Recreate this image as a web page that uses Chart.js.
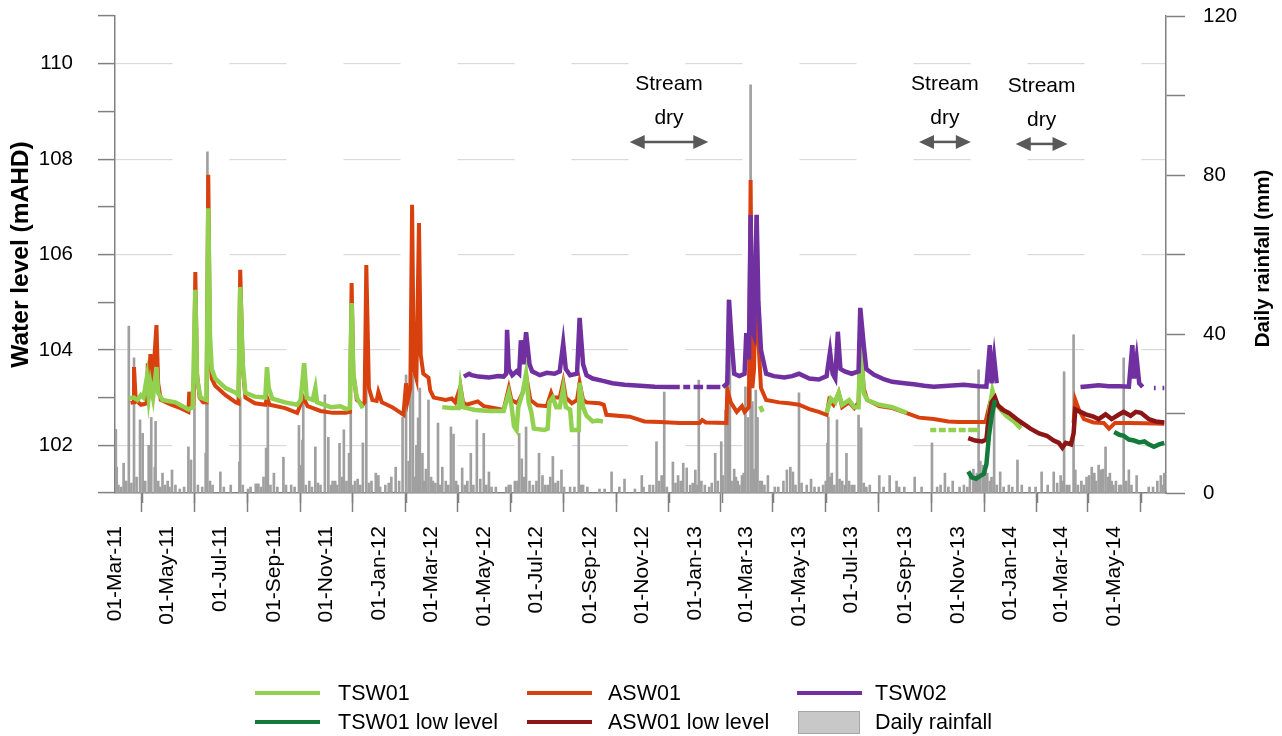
<!DOCTYPE html>
<html lang="en">
<head>
<meta charset="UTF-8">
<title>Water level and daily rainfall</title>
<script src="https://cdn.jsdelivr.net/npm/chart.js"></script>
<style>
  html, body { margin: 0; padding: 0; background: #fff; }
  #wrap { width: 1282px; height: 736px; }
</style>
</head>
<body>
<div id="wrap"><canvas id="chart" width="1282" height="736"></canvas></div>
<script>
// ---- data ----
const tickLabels = ['01-Mar-11', '01-May-11', '01-Jul-11', '01-Sep-11', '01-Nov-11', '01-Jan-12',
  '01-Mar-12', '01-May-12', '01-Jul-12', '01-Sep-12', '01-Nov-12', '01-Jan-13', '01-Mar-13',
  '01-May-13', '01-Jul-13', '01-Sep-13', '01-Nov-13', '01-Jan-14', '01-Mar-14', '01-May-14'];

const tsw01 = [
  ['2011-03-17', 102.99], ['2011-03-23', 103.0], ['2011-03-27', 102.95], ['2011-03-31', 103.05],
  ['2011-04-03', 103.0], ['2011-04-07', 103.43], ['2011-04-09', 103.0], ['2011-04-11', 103.3],
  ['2011-04-14', 103.0], ['2011-04-18', 103.64], ['2011-04-20', 103.1], ['2011-04-25', 102.95],
  ['2011-05-10', 102.9], ['2011-05-25', 102.75], ['2011-05-30', 102.8], ['2011-06-02', 105.26],
  ['2011-06-04', 103.4], ['2011-06-08', 103.0], ['2011-06-15', 102.95], ['2011-06-17', 106.97],
  ['2011-06-19', 104.3], ['2011-06-21', 103.6], ['2011-06-25', 103.4], ['2011-07-07', 103.2],
  ['2011-07-19', 103.1], ['2011-07-22', 103.05], ['2011-07-24', 105.32], ['2011-07-27', 103.7],
  ['2011-07-30', 103.1], ['2011-08-10', 103.02], ['2011-08-22', 103.0], ['2011-08-24', 103.64],
  ['2011-08-26', 103.2], ['2011-08-30', 102.98], ['2011-09-14', 102.9], ['2011-09-28', 102.85],
  ['2011-10-02', 102.95], ['2011-10-06', 103.72], ['2011-10-09', 103.0], ['2011-10-16', 102.95],
  ['2011-10-19', 103.2], ['2011-10-21', 102.9], ['2011-11-06', 102.8], ['2011-11-17', 102.82],
  ['2011-11-24', 102.76], ['2011-11-28', 102.78], ['2011-11-30', 104.98], ['2011-12-02', 103.5],
  ['2011-12-06', 103.0], ['2011-12-13', 102.78], ['2011-12-14', null],
  ['2012-03-14', 102.8], ['2012-03-23', 102.78], ['2012-04-02', 102.78], ['2012-04-04', 103.2],
  ['2012-04-07', 102.8], ['2012-04-21', 102.74], ['2012-05-08', 102.72], ['2012-05-24', 102.72],
  ['2012-05-30', 103.1], ['2012-06-02', 102.85], ['2012-06-05', 102.4], ['2012-06-08', 102.32],
  ['2012-06-10', 102.8], ['2012-06-15', 103.1], ['2012-06-19', 103.5], ['2012-06-22', 102.9],
  ['2012-06-25', 102.7], ['2012-06-28', 102.35], ['2012-07-10', 102.32], ['2012-07-14', 102.35],
  ['2012-07-16', 102.9], ['2012-07-20', 103.0], ['2012-07-24', 102.8], ['2012-07-28', 102.8],
  ['2012-08-01', 103.2], ['2012-08-04', 102.8], ['2012-08-09', 102.75], ['2012-08-11', 102.32],
  ['2012-08-19', 102.32], ['2012-08-20', 103.31], ['2012-08-24', 102.8], ['2012-08-28', 102.62],
  ['2012-09-04', 102.5], ['2012-09-10', 102.52], ['2012-09-16', 102.5], ['2012-09-17', null],
  ['2013-03-17', 102.82], ['2013-03-20', 102.7], ['2013-03-21', null],
  ['2013-06-02', 102.68], ['2013-06-07', 102.98], ['2013-06-12', 102.9], ['2013-06-16', 103.1],
  ['2013-06-20', 102.85], ['2013-06-28', 102.95], ['2013-07-04', 102.8], ['2013-07-09', 102.8],
  ['2013-07-11', 104.25], ['2013-07-15', 103.1], ['2013-07-19', 102.95], ['2013-08-02', 102.85],
  ['2013-08-17', 102.8], ['2013-09-03', 102.68], ['2013-09-04', null],
  ['2013-09-30', 102.32], ['2013-10-07', 102.32], ['2013-10-08', null],
  ['2013-10-10', 102.32], ['2013-10-18', 102.32], ['2013-10-19', null],
  ['2013-10-21', 102.32], ['2013-10-30', 102.32], ['2013-10-31', null],
  ['2013-11-02', 102.32], ['2013-11-10', 102.32], ['2013-11-11', null],
  ['2013-11-13', 102.32], ['2013-11-25', 102.32], ['2013-11-26', null],
  ['2013-12-05', 102.32], ['2013-12-08', 102.8], ['2013-12-11', 103.15], ['2013-12-14', 102.95],
  ['2013-12-18', 102.8], ['2013-12-27', 102.62], ['2014-01-05', 102.5], ['2014-01-13', 102.35]
];

const tsw01Low = [
  ['2013-11-13', 101.45], ['2013-11-17', 101.33], ['2013-11-22', 101.3], ['2013-11-26', 101.35],
  ['2013-12-01', 101.4], ['2013-12-04', 101.6], ['2013-12-07', 102.2], ['2013-12-10', 102.6],
  ['2013-12-14', 102.95], ['2013-12-15', null],
  ['2014-05-01', 102.28], ['2014-05-07', 102.22], ['2014-05-12', 102.2], ['2014-05-18', 102.12],
  ['2014-05-24', 102.1], ['2014-05-30', 102.06], ['2014-06-05', 102.08], ['2014-06-10', 102.02],
  ['2014-06-16', 101.97], ['2014-06-22', 102.02], ['2014-06-28', 102.05]
];

const asw01 = [
  ['2011-03-19', 102.89], ['2011-03-22', 102.9], ['2011-03-23', 103.64], ['2011-03-25', 102.95],
  ['2011-03-31', 102.85], ['2011-04-05', 102.87], ['2011-04-07', 102.9], ['2011-04-08', 103.72],
  ['2011-04-09', 103.2], ['2011-04-11', 103.91], ['2011-04-13', 103.1], ['2011-04-18', 104.52],
  ['2011-04-20', 103.3], ['2011-04-23', 102.95], ['2011-05-05', 102.85], ['2011-05-16', 102.78],
  ['2011-05-25', 102.7], ['2011-05-26', 103.12], ['2011-05-28', 102.85], ['2011-05-31', 102.85],
  ['2011-06-02', 105.63], ['2011-06-04', 103.5], ['2011-06-07', 103.0], ['2011-06-11', 102.9],
  ['2011-06-15', 102.9], ['2011-06-17', 107.67], ['2011-06-19', 104.0], ['2011-06-21', 103.4],
  ['2011-06-25', 103.25], ['2011-07-07', 103.05], ['2011-07-19', 102.9], ['2011-07-22', 102.88],
  ['2011-07-24', 105.68], ['2011-07-27', 103.6], ['2011-07-30', 103.0], ['2011-08-10', 102.88],
  ['2011-08-22', 102.85], ['2011-08-24', 103.0], ['2011-08-27', 102.85], ['2011-09-14', 102.78],
  ['2011-09-28', 102.68], ['2011-10-05', 103.0], ['2011-10-10', 102.82], ['2011-10-25', 102.72],
  ['2011-11-08', 102.68], ['2011-11-23', 102.68], ['2011-11-28', 102.7], ['2011-11-30', 105.4],
  ['2011-12-02', 103.5], ['2011-12-06', 102.95], ['2011-12-13', 102.85], ['2011-12-15', 102.9],
  ['2011-12-17', 105.78], ['2011-12-20', 103.2], ['2011-12-24', 102.95], ['2011-12-29', 102.93],
  ['2011-12-31', 103.12], ['2012-01-04', 102.9], ['2012-01-16', 102.8], ['2012-01-29', 102.64],
  ['2012-02-01', 103.3], ['2012-02-03', 102.95], ['2012-02-06', 103.2], ['2012-02-08', 107.04],
  ['2012-02-10', 103.6], ['2012-02-13', 103.4], ['2012-02-16', 106.66], ['2012-02-18', 103.9],
  ['2012-02-21', 103.5], ['2012-02-27', 103.42], ['2012-02-29', 103.15], ['2012-03-04', 103.0],
  ['2012-03-18', 102.95], ['2012-03-25', 102.98], ['2012-03-29', 102.9], ['2012-04-04', 103.23],
  ['2012-04-07', 102.9], ['2012-04-11', 102.85], ['2012-04-24', 102.92], ['2012-05-01', 102.82],
  ['2012-05-14', 102.78], ['2012-05-24', 102.74], ['2012-05-30', 103.2], ['2012-06-02', 102.95],
  ['2012-06-09', 102.88], ['2012-06-15', 103.1], ['2012-06-20', 103.37], ['2012-06-24', 102.95],
  ['2012-07-02', 102.84], ['2012-07-13', 102.82], ['2012-07-18', 103.1], ['2012-07-20', 103.0],
  ['2012-07-24', 103.0], ['2012-07-28', 103.0], ['2012-08-01', 103.33], ['2012-08-04', 103.0],
  ['2012-08-11', 102.88], ['2012-08-17', 102.95], ['2012-08-20', 103.31], ['2012-08-24', 102.95],
  ['2012-08-28', 102.9], ['2012-09-12', 102.88], ['2012-09-17', 102.85], ['2012-09-20', 102.64],
  ['2012-10-17', 102.6], ['2012-11-03', 102.5], ['2012-11-21', 102.49], ['2012-12-14', 102.47],
  ['2013-01-06', 102.47], ['2013-01-09', 102.53], ['2013-01-13', 102.48], ['2013-02-06', 102.47],
  ['2013-02-07', 103.16], ['2013-02-11', 102.9], ['2013-02-18', 102.7], ['2013-02-24', 102.82],
  ['2013-02-27', 102.7], ['2013-03-04', 102.8], ['2013-03-06', 107.56], ['2013-03-08', 103.2],
  ['2013-03-10', 103.6], ['2013-03-13', 106.83], ['2013-03-15', 104.2], ['2013-03-18', 103.2],
  ['2013-03-24', 102.95], ['2013-04-08', 102.9], ['2013-04-19', 102.88], ['2013-05-01', 102.85],
  ['2013-05-13', 102.76], ['2013-05-24', 102.7], ['2013-06-02', 102.64], ['2013-06-05', 102.95],
  ['2013-06-10', 102.85], ['2013-06-16', 103.1], ['2013-06-20', 102.8], ['2013-06-28', 102.9],
  ['2013-07-04', 102.78], ['2013-07-09', 102.9], ['2013-07-11', 104.2], ['2013-07-15', 103.2],
  ['2013-07-19', 102.95], ['2013-08-02', 102.82], ['2013-08-17', 102.78], ['2013-09-02', 102.68],
  ['2013-09-17', 102.58], ['2013-10-04', 102.55], ['2013-10-21', 102.5], ['2013-11-02', 102.49],
  ['2013-11-19', 102.49], ['2013-12-03', 102.49], ['2013-12-07', 102.8], ['2013-12-10', 103.0],
  ['2013-12-15', 102.85], ['2013-12-22', 102.78], ['2013-12-30', 102.62], ['2014-01-07', 102.52],
  ['2014-01-14', 102.43], ['2014-01-15', null],
  ['2014-03-15', 102.47], ['2014-03-17', 102.95], ['2014-03-21', 102.75], ['2014-03-27', 102.55],
  ['2014-04-07', 102.48], ['2014-04-19', 102.47], ['2014-04-25', 102.35], ['2014-05-02', 102.47],
  ['2014-05-18', 102.47], ['2014-06-05', 102.46], ['2014-06-28', 102.45]
];

const asw01Low = [
  ['2013-11-13', 102.15], ['2013-11-21', 102.1], ['2013-11-29', 102.08], ['2013-12-04', 102.12],
  ['2013-12-07', 102.6], ['2013-12-10', 102.9], ['2013-12-14', 103.0], ['2013-12-17', 102.85],
  ['2013-12-22', 102.75], ['2013-12-30', 102.68], ['2014-01-08', 102.55], ['2014-01-16', 102.45],
  ['2014-01-24', 102.35], ['2014-02-03', 102.25], ['2014-02-12', 102.2], ['2014-02-20', 102.1],
  ['2014-02-26', 102.05], ['2014-03-02', 101.95], ['2014-03-06', 102.05], ['2014-03-12', 102.02],
  ['2014-03-15', 102.25], ['2014-03-17', 102.75], ['2014-03-23', 102.7], ['2014-03-29', 102.65],
  ['2014-04-07', 102.6], ['2014-04-13', 102.55], ['2014-04-21', 102.65], ['2014-04-28', 102.55],
  ['2014-05-07', 102.65], ['2014-05-12', 102.7], ['2014-05-20', 102.62], ['2014-05-26', 102.7],
  ['2014-06-01', 102.68], ['2014-06-10', 102.55], ['2014-06-18', 102.5], ['2014-06-28', 102.48]
];

const tsw02 = [
  ['2012-04-08', 103.44], ['2012-04-14', 103.5], ['2012-04-17', 103.47], ['2012-04-25', 103.44],
  ['2012-05-07', 103.42], ['2012-05-18', 103.45], ['2012-05-24', 103.44], ['2012-05-27', 103.5],
  ['2012-05-28', 104.42], ['2012-05-30', 103.6], ['2012-06-03', 103.47], ['2012-06-08', 103.55],
  ['2012-06-11', 103.5], ['2012-06-13', 104.2], ['2012-06-16', 103.7], ['2012-06-19', 104.37],
  ['2012-06-23', 103.7], ['2012-06-26', 103.55], ['2012-07-05', 103.47], ['2012-07-13', 103.52],
  ['2012-07-22', 103.5], ['2012-07-28', 103.55], ['2012-08-01', 104.14], ['2012-08-04', 103.6],
  ['2012-08-09', 103.47], ['2012-08-17', 103.5], ['2012-08-20', 104.67], ['2012-08-24', 103.7],
  ['2012-08-28', 103.47], ['2012-09-04', 103.4], ['2012-09-16', 103.35], ['2012-09-27', 103.3],
  ['2012-10-11', 103.27], ['2012-10-29', 103.25], ['2012-11-15', 103.23], ['2012-12-03', 103.22],
  ['2012-12-14', 103.22], ['2012-12-15', null], ['2012-12-18', 103.22], ['2012-12-26', 103.22],
  ['2012-12-27', null], ['2012-12-30', 103.22], ['2013-01-10', 103.22], ['2013-01-11', null],
  ['2013-01-14', 103.22], ['2013-01-30', 103.22], ['2013-01-31', null],
  ['2013-02-02', 103.22], ['2013-02-07', 103.3], ['2013-02-09', 105.05], ['2013-02-12', 104.2],
  ['2013-02-15', 103.5], ['2013-02-21', 103.45], ['2013-02-27', 103.5], ['2013-03-01', 104.35],
  ['2013-03-04', 103.8], ['2013-03-06', 106.83], ['2013-03-08', 104.4], ['2013-03-10', 104.3],
  ['2013-03-13', 106.83], ['2013-03-15', 105.0], ['2013-03-18', 104.0], ['2013-03-24', 103.5],
  ['2013-04-02', 103.45], ['2013-04-14', 103.42], ['2013-04-23', 103.45], ['2013-05-01', 103.5],
  ['2013-05-13', 103.4], ['2013-05-24', 103.38], ['2013-06-02', 103.45], ['2013-06-06', 103.96],
  ['2013-06-09', 103.5], ['2013-06-12', 103.4], ['2013-06-15', 104.38], ['2013-06-18', 103.6],
  ['2013-06-23', 103.55], ['2013-07-01', 103.5], ['2013-07-09', 103.55], ['2013-07-11', 104.88],
  ['2013-07-15', 104.1], ['2013-07-18', 103.6], ['2013-07-27', 103.48], ['2013-08-08', 103.38],
  ['2013-08-17', 103.33], ['2013-08-31', 103.3], ['2013-09-11', 103.28], ['2013-09-23', 103.25],
  ['2013-10-04', 103.23], ['2013-10-21', 103.25], ['2013-11-08', 103.27], ['2013-11-25', 103.24],
  ['2013-12-04', 103.23], ['2013-12-08', 104.1], ['2013-12-10', 103.3], ['2013-12-13', 103.83],
  ['2013-12-16', 103.3], ['2013-12-17', null],
  ['2014-03-23', 103.22], ['2014-04-02', 103.24], ['2014-04-13', 103.26], ['2014-04-25', 103.24],
  ['2014-05-07', 103.24], ['2014-05-18', 103.23], ['2014-05-22', 104.1], ['2014-05-24', 103.4],
  ['2014-05-27', 103.83], ['2014-05-30', 103.3], ['2014-06-03', 103.22], ['2014-06-04', null],
  ['2014-06-16', 103.2], ['2014-06-18', 103.2], ['2014-06-19', null],
  ['2014-06-26', 103.2], ['2014-06-28', 103.2]
];

// daily rainfall, larger falls
const rainfall = [
  ['2011-03-02', 16], ['2011-03-03', 6.5], ['2011-03-11', 7.5], ['2011-03-17', 42], ['2011-03-23', 34],
  ['2011-03-30', 18.4], ['2011-04-02', 15], ['2011-04-05', 3], ['2011-04-09', 12], ['2011-04-12', 19],
  ['2011-04-16', 6.5], ['2011-04-17', 18], ['2011-04-25', 5], ['2011-05-01', 3], ['2011-05-06', 5.8],
  ['2011-05-10', 2], ['2011-05-25', 11.6], ['2011-05-28', 8.3], ['2011-06-01', 21.6], ['2011-06-14', 10],
  ['2011-06-15', 48], ['2011-06-16', 85.8], ['2011-06-19', 3], ['2011-07-01', 5.3], ['2011-07-13', 2],
  ['2011-07-23', 7.8], ['2011-07-24', 24], ['2011-08-05', 1.5], ['2011-08-11', 2.3], ['2011-08-14', 2.3],
  ['2011-08-20', 4], ['2011-08-23', 11.3], ['2011-08-25', 24], ['2011-09-01', 5], ['2011-09-12', 9],
  ['2011-09-21', 2], ['2011-09-30', 17], ['2011-10-02', 7], ['2011-10-04', 13.3], ['2011-10-05', 24],
  ['2011-10-19', 11.6], ['2011-10-25', 2], ['2011-10-30', 24.7], ['2011-11-03', 14], ['2011-11-11', 3],
  ['2011-11-16', 12.5], ['2011-11-21', 15.9], ['2011-11-27', 10], ['2011-11-29', 24.7], ['2011-12-04', 3],
  ['2011-12-13', 12.6], ['2011-12-17', 26], ['2011-12-28', 5], ['2011-12-31', 4.4], ['2012-01-08', 2],
  ['2012-01-20', 6.5], ['2012-01-28', 19], ['2012-02-01', 29.7], ['2012-02-04', 8], ['2012-02-06', 25.7],
  ['2012-02-09', 30], ['2012-02-13', 12], ['2012-02-15', 18.9], ['2012-02-17', 26.4], ['2012-02-20', 10],
  ['2012-02-24', 6], ['2012-02-27', 23.4], ['2012-03-03', 3], ['2012-03-09', 17.6], ['2012-03-14', 6.5],
  ['2012-03-18', 3], ['2012-03-24', 16.6], ['2012-03-27', 14.8], ['2012-04-01', 2], ['2012-04-06', 6.3],
  ['2012-04-16', 10], ['2012-04-23', 18.4], ['2012-05-01', 15], ['2012-05-07', 5.3], ['2012-05-15', 1.5],
  ['2012-05-27', 1.5], ['2012-05-30', 2], ['2012-06-06', 3], ['2012-06-11', 15], ['2012-06-14', 8.6],
  ['2012-06-19', 16.6], ['2012-06-23', 3], ['2012-07-04', 10], ['2012-07-08', 4.4], ['2012-07-14', 2],
  ['2012-07-20', 9.2], ['2012-07-26', 3], ['2012-07-30', 5.8], ['2012-08-09', 1.5], ['2012-08-19', 27.7],
  ['2012-08-24', 2], ['2012-08-29', 1.5], ['2012-09-12', 1], ['2012-09-26', 5.3], ['2012-10-11', 3.5],
  ['2012-10-23', 1], ['2012-10-31', 4.4], ['2012-11-09', 2], ['2012-11-17', 12.9], ['2012-11-23', 4.4],
  ['2012-11-26', 25.4], ['2012-12-06', 7.8], ['2012-12-12', 4.4], ['2012-12-18', 7.5], ['2012-12-22', 6.3],
  ['2012-12-26', 2], ['2013-01-01', 5.8], ['2013-01-05', 28.4], ['2013-01-12', 2], ['2013-01-24', 10],
  ['2013-01-27', 3], ['2013-01-31', 12.9], ['2013-02-02', 4.4], ['2013-02-05', 20.9], ['2013-02-08', 48.6],
  ['2013-02-10', 40.2], ['2013-02-15', 6], ['2013-02-19', 3], ['2013-02-24', 4.4], ['2013-02-28', 26.7],
  ['2013-03-03', 19], ['2013-03-06', 102.7], ['2013-03-08', 23], ['2013-03-12', 25.9], ['2013-03-14', 19],
  ['2013-03-19', 3], ['2013-03-26', 4.4], ['2013-04-03', 1.5], ['2013-04-13', 3], ['2013-04-17', 5.8],
  ['2013-04-21', 6.5], ['2013-04-24', 5.3], ['2013-05-01', 25.2], ['2013-05-10', 2], ['2013-05-15', 3.5],
  ['2013-05-24', 1.5], ['2013-06-03', 12.6], ['2013-06-04', 19.1], ['2013-06-08', 5], ['2013-06-14', 18.4],
  ['2013-06-20', 3], ['2013-06-25', 10], ['2013-07-01', 2], ['2013-07-09', 19.6], ['2013-07-12', 16.4],
  ['2013-07-22', 2], ['2013-08-02', 4.4], ['2013-08-14', 4.4], ['2013-08-22', 3], ['2013-08-31', 1.5],
  ['2013-09-12', 4], ['2013-10-02', 12.6], ['2013-10-17', 5], ['2013-10-26', 3], ['2013-11-03', 1.5],
  ['2013-11-15', 4], ['2013-11-19', 6], ['2013-11-25', 31], ['2013-11-27', 8], ['2013-11-30', 7],
  ['2013-12-03', 6], ['2013-12-05', 5], ['2013-12-13', 23.4], ['2013-12-20', 5.3], ['2013-12-30', 2],
  ['2014-01-09', 8.3], ['2014-01-23', 1.5], ['2014-02-06', 5.3], ['2014-02-20', 5.3], ['2014-02-28', 4.4],
  ['2014-03-04', 30.5], ['2014-03-10', 2], ['2014-03-15', 39.8], ['2014-03-17', 5.8], ['2014-03-27', 2],
  ['2014-04-02', 4.4], ['2014-04-05', 6.5], ['2014-04-08', 5], ['2014-04-13', 7], ['2014-04-16', 5.8],
  ['2014-04-21', 11.6], ['2014-04-24', 4], ['2014-04-28', 3], ['2014-05-07', 2], ['2014-05-12', 34],
  ['2014-05-18', 5.8], ['2014-05-27', 4.4], ['2014-06-10', 1.5], ['2014-06-20', 3], ['2014-06-24', 4.4],
  ['2014-06-28', 5]
];

// daily rainfall, small falls along the base
const rainfallSmall = [
  ['2011-03-05', 2], ['2011-03-08', 1.5], ['2011-03-14', 3], ['2011-03-20', 2.5], ['2011-03-26', 4],
  ['2011-04-04', 2], ['2011-04-20', 3], ['2011-04-22', 1.5], ['2011-04-28', 2], ['2011-05-03', 1.5],
  ['2011-05-15', 1], ['2011-05-20', 1.5], ['2011-06-05', 2], ['2011-06-10', 1.5], ['2011-06-22', 2],
  ['2011-07-05', 1.5], ['2011-07-27', 2], ['2011-08-02', 1], ['2011-08-17', 1.5], ['2011-08-28', 2],
  ['2011-09-05', 1.5], ['2011-09-15', 2], ['2011-09-25', 1.5], ['2011-10-08', 2], ['2011-10-12', 3],
  ['2011-10-15', 1.5], ['2011-10-22', 2.5], ['2011-11-06', 2], ['2011-11-08', 3], ['2011-11-13', 2],
  ['2011-11-19', 4], ['2011-11-24', 3], ['2011-12-01', 2], ['2011-12-07', 3.5], ['2011-12-10', 2],
  ['2011-12-20', 2.5], ['2011-12-23', 3], ['2012-01-02', 1.5], ['2012-01-12', 2.5], ['2012-01-15', 4],
  ['2012-01-24', 3], ['2012-02-11', 4], ['2012-02-22', 3], ['2012-03-01', 4], ['2012-03-06', 2.5],
  ['2012-03-11', 2], ['2012-03-21', 2], ['2012-03-30', 3], ['2012-04-09', 2], ['2012-04-12', 3],
  ['2012-04-19', 2], ['2012-04-27', 3.5], ['2012-05-04', 2], ['2012-05-10', 1.5], ['2012-06-01', 2],
  ['2012-06-09', 3], ['2012-06-17', 4], ['2012-06-27', 2], ['2012-07-01', 3], ['2012-07-11', 2],
  ['2012-07-17', 4], ['2012-07-23', 2.5], ['2012-08-02', 1.5], ['2012-08-14', 1.5], ['2012-08-22', 2],
  ['2012-09-18', 1], ['2012-10-05', 1.5], ['2012-11-02', 1.5], ['2012-11-13', 2], ['2012-11-20', 3],
  ['2012-11-29', 1.5], ['2012-12-09', 2.5], ['2012-12-15', 3], ['2012-12-29', 2.5], ['2013-01-03', 2],
  ['2013-01-08', 3], ['2013-01-17', 1.5], ['2013-01-20', 2.5], ['2013-02-12', 3], ['2013-02-17', 4],
  ['2013-02-21', 2], ['2013-02-26', 5], ['2013-03-10', 6], ['2013-03-17', 3], ['2013-03-22', 2],
  ['2013-04-07', 1.5], ['2013-04-27', 2], ['2013-05-04', 2.5], ['2013-05-19', 1.5], ['2013-05-29', 2],
  ['2013-06-01', 3], ['2013-06-06', 4], ['2013-06-11', 2], ['2013-06-17', 3.5], ['2013-06-23', 2],
  ['2013-06-28', 3], ['2013-07-04', 2], ['2013-07-15', 2.5], ['2013-07-18', 1.5], ['2013-08-07', 1.5],
  ['2013-08-25', 1.5], ['2013-09-20', 1.5], ['2013-10-08', 1.5], ['2013-10-12', 2], ['2013-10-21', 1.5],
  ['2013-11-08', 2], ['2013-11-12', 1.5], ['2013-11-21', 3], ['2013-11-23', 5], ['2013-12-01', 4],
  ['2013-12-08', 3], ['2013-12-10', 4], ['2013-12-16', 2], ['2013-12-24', 1.5], ['2014-01-03', 1.5],
  ['2014-01-14', 2], ['2014-01-30', 1.5], ['2014-02-13', 2], ['2014-02-24', 2.5], ['2014-03-02', 3],
  ['2014-03-07', 2], ['2014-03-20', 2], ['2014-03-24', 3], ['2014-03-30', 4], ['2014-04-10', 3],
  ['2014-04-18', 6], ['2014-04-26', 5], ['2014-04-30', 2], ['2014-05-03', 3], ['2014-05-09', 2],
  ['2014-05-15', 3], ['2014-05-21', 2], ['2014-06-15', 1.5], ['2014-06-26', 2]
];

// "Stream dry" periods marked with arrows
const streamDry = [
  ['2012-10-17', '2013-01-16'],
  ['2013-09-17', '2013-11-16'],
  ['2014-01-07', '2014-03-08']
];

// ---- helpers ----
const MONTHS = {Jan: 0, Feb: 1, Mar: 2, Apr: 3, May: 4, Jun: 5, Jul: 6, Aug: 7, Sep: 8, Oct: 9, Nov: 10, Dec: 11};
const DAY = 86400000;
function dayNum(s) {
  const [y, m, d] = s.split('-').map(Number);
  return Date.UTC(y, m - 1, d) / DAY;
}
function labelDay(l) {
  const [d, mon, yy] = l.split('-');
  return Date.UTC(2000 + Number(yy), MONTHS[mon], Number(d)) / DAY;
}
function toPoints(arr) {
  return arr.map(([d, v]) => ({x: dayNum(d), y: v}));
}

const FONT = "'Liberation Sans', Arial, Helvetica, sans-serif";
Chart.defaults.font.family = FONT;
Chart.defaults.font.size = 21;
Chart.defaults.color = '#000';

const AXIS = '#808080';
const majorTicks = tickLabels.map(labelDay);
const xMin = dayNum('2011-03-01');
const xMax = dayNum('2014-06-30');

function lineSet(label, arr, color, width, order) {
  return {
    label, data: toPoints(arr), borderColor: color, backgroundColor: color,
    borderWidth: width, pointRadius: 0, tension: 0, spanGaps: false, order, yAxisID: 'y'
  };
}

// minor monthly tick marks on the date axis
const minorTicks = {
  id: 'minorTicks',
  afterDraw(chart) {
    const xs = chart.scales.x, c = chart.ctx;
    c.save();
    c.strokeStyle = AXIS;
    c.lineWidth = 1.5;
    for (let y = 2011; y <= 2014; y++) {
      for (let m = 0; m < 12; m++) {
        const v = Date.UTC(y, m, 1) / DAY;
        if (v <= xMin || v > xMax || majorTicks.includes(v)) continue;
        const px = Math.round(xs.getPixelForValue(v)) + 0.5;
        c.beginPath();
        c.moveTo(px, xs.top);
        c.lineTo(px, xs.top + 10);
        c.stroke();
      }
    }
    c.restore();
  }
};

// "Stream dry" labels with double-headed arrows
const dryNotes = {
  id: 'dryNotes',
  afterDraw(chart) {
    const xs = chart.scales.x, ys = chart.scales.y, c = chart.ctx;
    c.save();
    streamDry.forEach(([a, b], i) => {
      const x1 = xs.getPixelForValue(dayNum(a));
      const x2 = xs.getPixelForValue(dayNum(b));
      const yA = ys.getPixelForValue(108.36) + (i === 2 ? 2 : 0);
      const mid = (x1 + x2) / 2;
      c.fillStyle = '#000';
      c.font = '21px ' + FONT;
      c.textAlign = 'center';
      c.textBaseline = 'middle';
      c.fillText('Stream', mid, yA - 58);
      c.fillText('dry', mid, yA - 24);
      c.strokeStyle = '#595959';
      c.fillStyle = '#595959';
      c.lineWidth = 2.5;
      c.beginPath();
      c.moveTo(x1 + 12, yA);
      c.lineTo(x2 - 12, yA);
      c.stroke();
      c.beginPath();
      c.moveTo(x1, yA); c.lineTo(x1 + 15, yA - 7); c.lineTo(x1 + 15, yA + 7); c.closePath();
      c.moveTo(x2, yA); c.lineTo(x2 - 15, yA - 7); c.lineTo(x2 - 15, yA + 7); c.closePath();
      c.fill();
    });
    c.restore();
  }
};

// right axis title reads bottom-to-top, like the left one
const rightTitle = {
  id: 'rightTitle',
  afterDraw(chart) {
    const c = chart.ctx, a = chart.chartArea;
    c.save();
    c.translate(1263.5, (a.top + a.bottom) / 2 + 4);
    c.rotate(-Math.PI / 2);
    c.font = 'bold 20.5px ' + FONT;
    c.fillStyle = '#000';
    c.textAlign = 'center';
    c.textBaseline = 'middle';
    c.fillText('Daily rainfall (mm)', 0, 0);
    c.restore();
  }
};

// legend in three columns, two rows
const legendGrid = {
  id: 'legendGrid',
  afterDraw(chart) {
    const c = chart.ctx;
    const cols = [[255, 338], [527, 608], [797, 875]];
    const rows = [693, 722];
    const items = chart.data.datasets.slice().sort((p, q) => p.legendPos - q.legendPos);
    c.save();
    c.font = '21.5px ' + FONT;
    c.textBaseline = 'middle';
    c.textAlign = 'left';
    items.forEach((ds, i) => {
      const [lx, tx] = cols[i % 3];
      const y = rows[Math.floor(i / 3)];
      if (ds.type === 'bar') {
        c.fillStyle = '#c8c8c8';
        c.fillRect(lx + 1, y - 11, 62, 23);
        c.strokeStyle = '#a6a6a6';
        c.lineWidth = 1;
        c.strokeRect(lx + 1.5, y - 10.5, 61, 22);
      } else {
        c.strokeStyle = ds.borderColor;
        c.lineWidth = 4;
        c.beginPath();
        c.moveTo(lx, y);
        c.lineTo(lx + 65, y);
        c.stroke();
      }
      c.fillStyle = '#000';
      c.fillText(ds.label, tx, y + 1);
    });
    c.restore();
  }
};

const rainPoints = toPoints(rainfall.concat(rainfallSmall)).sort((p, q) => p.x - q.x);

const datasets = [
  Object.assign(lineSet('TSW01', tsw01, '#92d050', 4.5, 4), {legendPos: 0}),
  Object.assign(lineSet('ASW01', asw01, '#d8400e', 4, 5), {legendPos: 1}),
  Object.assign(lineSet('TSW02', tsw02, '#7030a0', 4.5, 3), {legendPos: 2}),
  Object.assign(lineSet('TSW01 low level', tsw01Low, '#137a3c', 4.5, 1), {legendPos: 3}),
  Object.assign(lineSet('ASW01 low level', asw01Low, '#8c1515', 4.5, 2), {legendPos: 4}),
  {
    type: 'bar', label: 'Daily rainfall', data: rainPoints, yAxisID: 'y1',
    backgroundColor: '#a0a0a0', barThickness: 2, order: 10, legendPos: 5
  }
];

new Chart(document.getElementById('chart'), {
  type: 'line',
  data: {datasets},
  options: {
    responsive: false,
    animation: false,
    layout: {padding: {top: 16, left: 0, right: 0, bottom: 0}},
    plugins: {legend: {display: false}, tooltip: {enabled: false}},
    scales: {
      x: {
        type: 'linear', min: xMin, max: xMax, offset: false,
        afterBuildTicks: s => { s.ticks = majorTicks.map(v => ({value: v})); },
        afterFit: s => { s.height = 243; s.paddingLeft = 0; s.paddingRight = 0; },
        grid: {drawOnChartArea: false, tickLength: 19, tickColor: AXIS, tickWidth: 1.5},
        border: {color: AXIS, width: 1.5},
        ticks: {
          autoSkip: false, maxRotation: 90, minRotation: 90, padding: 14,
          callback: v => tickLabels[majorTicks.indexOf(v)]
        }
      },
      y: {
        position: 'left', min: 101, max: 111,
        afterFit: s => { s.width = 115; s.paddingTop = 0; s.paddingBottom = 0; },
        grid: {
          color: ctx => (ctx.tick && ctx.tick.value % 2 === 0 ? '#d9d9d9' : 'rgba(0,0,0,0)'),
          lineWidth: 1.2, tickLength: 17, tickColor: AXIS, tickWidth: 1.5
        },
        border: {color: AXIS, width: 1.5, dash: [57, 57]},
        ticks: {stepSize: 1, padding: 25, font: {size: 20.5}, callback: v => (v % 2 === 0 ? v : '')},
        title: {display: true, text: 'Water level (mAHD)', font: {weight: 'bold', size: 24.5}, padding: {top: 7, bottom: 0}}
      },
      y1: {
        position: 'right', min: 0, max: 120,
        afterFit: s => { s.width = 116; s.paddingTop = 0; s.paddingBottom = 0; },
        grid: {drawOnChartArea: false, tickLength: 19, tickColor: AXIS, tickWidth: 1.5},
        border: {color: AXIS, width: 1.5},
        ticks: {stepSize: 20, padding: 18, font: {size: 20.5}, callback: v => (v % 40 === 0 ? v : '')}
      }
    }
  },
  plugins: [minorTicks, dryNotes, rightTitle, legendGrid]
});
</script>
</body>
</html>
